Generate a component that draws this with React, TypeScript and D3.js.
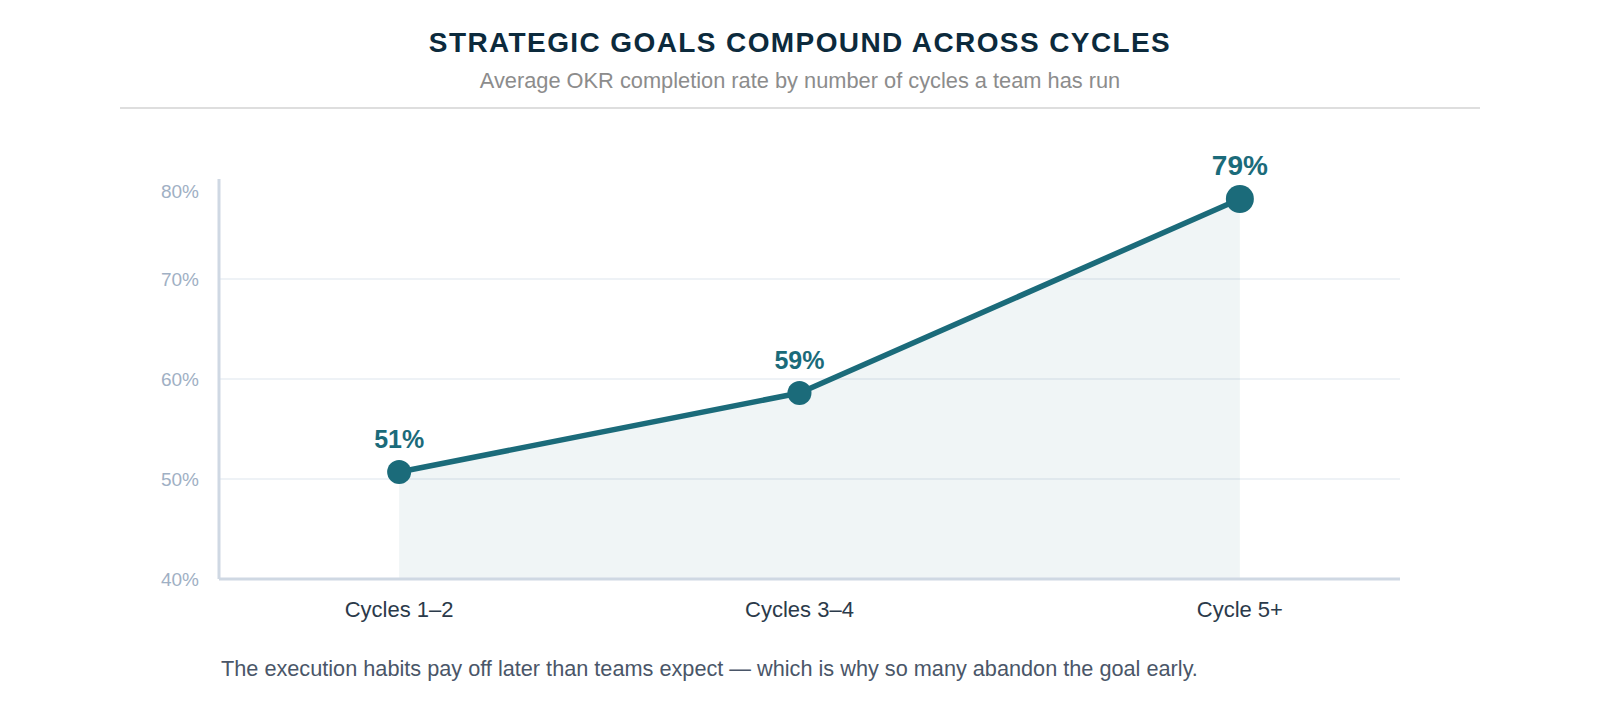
import * as d3 from "d3"

const categories = ["Cycles 1–2", "Cycles 3–4", "Cycle 5+"]
// midpoint of the cycle range each group covers
const cyclePos = [1.5, 3.5, 5.7]
const completion = [50.7, 58.6, 78.0]
const valueLabels = ["51%", "59%", "79%"]
const yTicks = [40, 50, 60, 70, 80]

const W = 1600
const H = 720
const margin = { top: 179, right: 200, bottom: 141, left: 219 }
const font = "'Liberation Sans', Arial, sans-serif"
const teal = "#1b6b7a"

export default function App() {
    const x = d3
        .scaleLinear()
        .domain([0.6, 6.5])
        .range([margin.left, W - margin.right])

    const y = d3
        .scaleLinear()
        .domain([40, 80])
        .range([H - margin.bottom, margin.top])

    const pts = completion.map((v, i) => ({ x: cyclePos[i], v, i }))

    const line = d3
        .line<{ x: number; v: number }>()
        .x((d) => x(d.x))
        .y((d) => y(d.v))

    const area = d3
        .area<{ x: number; v: number }>()
        .x((d) => x(d.x))
        .y0(y(40))
        .y1((d) => y(d.v))

    const last = pts.length - 1

    return (
        <svg width={W} height={H} style={{ position: "absolute", left: 0, top: 0, fontFamily: font }}>
            <rect width={W} height={H} fill="#fff" />

            {/* header */}
            <text x={800} y={52} textAnchor="middle" fontSize={28} fontWeight={700} fill="#0c2a3c" letterSpacing={1.4}>
                STRATEGIC GOALS COMPOUND ACROSS CYCLES
            </text>
            <text x={800} y={88} textAnchor="middle" fontSize={21.8} fill="#8c8c8c">
                Average OKR completion rate by number of cycles a team has run
            </text>
            <line x1={120} x2={1480} y1={108} y2={108} stroke="#dedede" strokeWidth={2} />

            {/* grid */}
            {yTicks.slice(1, -1).map((t) => (
                <line key={t} x1={x.range()[0]} x2={x.range()[1]} y1={y(t)} y2={y(t)} stroke="#eef2f6" strokeWidth={2} />
            ))}

            {/* y tick labels */}
            {yTicks.map((t) => (
                <text
                    key={t}
                    x={margin.left - 20}
                    y={Math.max(y(t), margin.top + 12)}
                    dy="0.38em"
                    textAnchor="end"
                    fontSize={19}
                    fill="#9fb0c4"
                >
                    {t}%
                </text>
            ))}

            <path d={area(pts) ?? ""} fill={teal} fillOpacity={0.065} />

            {/* axes */}
            <line x1={margin.left} x2={margin.left} y1={y(80)} y2={y(40)} stroke="#cfd8e3" strokeWidth={3} />
            <line x1={margin.left} x2={x.range()[1]} y1={y(40)} y2={y(40)} stroke="#cfd8e3" strokeWidth={3} />

            <path d={line(pts) ?? ""} fill="none" stroke={teal} strokeWidth={5.5} strokeLinejoin="round" />

            {pts.map((d) => (
                <g key={d.i}>
                    <circle cx={x(d.x)} cy={y(d.v)} r={d.i === last ? 14 : 12} fill={teal} />
                    <text
                        x={x(d.x)}
                        y={y(d.v) - 24}
                        textAnchor="middle"
                        fontSize={d.i === last ? 28 : 25}
                        fontWeight={700}
                        fill={teal}
                    >
                        {valueLabels[d.i]}
                    </text>
                    <text x={x(d.x)} y={617} textAnchor="middle" fontSize={22} fill="#2b3a4a">
                        {categories[d.i]}
                    </text>
                </g>
            ))}

            <text x={221} y={676} fontSize={21.7} fill="#4a5668">
                The execution habits pay off later than teams expect — which is why so many abandon the goal early.
            </text>
        </svg>
    )
}
